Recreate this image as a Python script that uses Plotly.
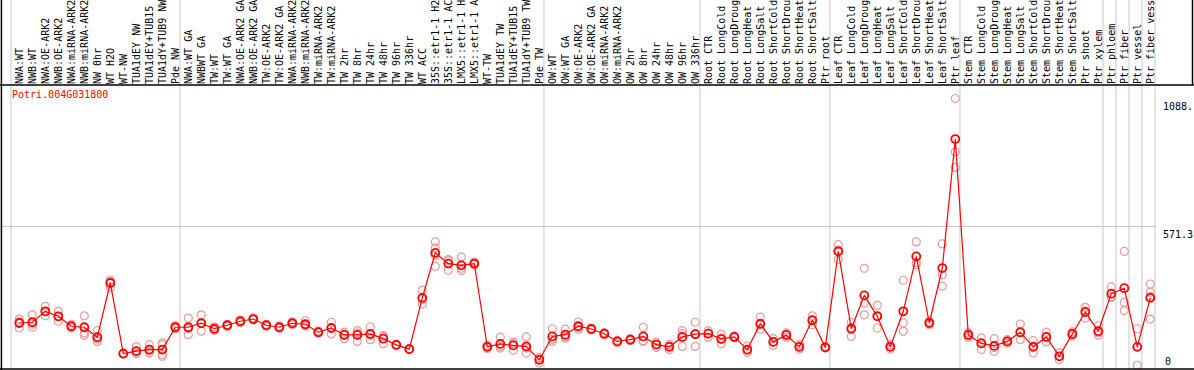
import plotly.graph_objects as go

labels = [
    "NWA:WT", "NWB:WT", "NWA:OE-ARK2", "NWB:OE-ARK2", "NWA:miRNA-ARK2", "NWB:miRNA-ARK2",
    "NW 0hr", "WT H2O", "WT-NW", "TUA1dEY NW", "TUA1dEY+TUB15 NW", "TUA1dY+TUB9 NW", "Pde NW",
    "NWA:WT GA", "NWBWT GA", "TW:WT", "TW:WT GA", "NWA:OE-ARK2 GA", "NWB:OE-ARK2 GA",
    "TW:OE-ARK2", "TW:OE-ARK2 GA", "NWA:miRNA-ARK2 GA", "NWB:miRNA-ARK2 GA", "TW:miRNA-ARK2",
    "TW:miRNA-ARK2 GA", "TW 2hr", "TW 8hr", "TW 24hr", "TW 48hr", "TW 96hr", "TW 336hr",
    "WT ACC", "35S::etr1-1 H2O", "35S::etr1-1 ACC", "LMX5::etr1-1 H2O", "LMX5::etr1-1 ACC",
    "WT-TW", "TUA1dEY TW", "TUA1dEY+TUB15 TW", "TUA1dY+TUB9 TW", "Pde TW",
    "OW:WT", "OW:WT GA", "OW:OE-ARK2", "OW:OE-ARK2 GA", "OW:miRNA-ARK2", "OW:miRNA-ARK2 GA",
    "OW 2hr", "OW 8hr", "OW 24hr", "OW 48hr", "OW 96hr", "OW 336hr",
    "Root CTR", "Root LongCold", "Root LongDrought", "Root LongHeat", "Root LongSalt",
    "Root ShortCold", "Root ShortDrought", "Root ShortHeat", "Root ShortSalt", "Ptr root",
    "Leaf CTR", "Leaf LongCold", "Leaf LongDrought", "Leaf LongHeat", "Leaf LongSalt",
    "Leaf ShortCold", "Leaf ShortDrought", "Leaf ShortHeat", "Leaf ShortSalt", "Ptr leaf",
    "Stem CTR", "Stem LongCold", "Stem LongDrought", "Stem LongHeat", "Stem LongSalt",
    "Stem ShortCold", "Stem ShortDrought", "Stem ShortHeat", "Stem ShortSalt", "Ptr shoot",
    "Ptr xylem", "Ptr phloem", "Ptr fiber", "Ptr vessel", "Ptr fiber vessel",
]

means = [185, 188, 232, 212, 172, 168, 128, 346, 62, 72, 78, 78, 168,
         168, 184, 162, 176, 192, 201, 176, 168, 184, 180, 148, 165,
         137, 137, 141, 122, 97, 80, 286, 467, 424, 417, 424, 89, 101, 95, 91, 37,
         131, 138, 172, 161, 142, 111, 118, 131, 98, 89, 129, 140,
         142, 121, 129, 78, 182, 109, 137, 89, 196, 87,
         473, 162, 296, 212, 89, 232, 453, 185, 406, 925,
         137, 103, 93, 111, 148, 89, 129, 51, 141, 229,
         152, 303, 325, 89, 286]

replicates = [
    [201, 165, 190], [218, 168, 180], [252, 214, 230], [232, 192, 212], [165, 180, 172],
    [214, 145, 136], [154, 111, 120], [352, 329, 358], [60, 64, 62], [90, 62, 64],
    [98, 64, 72], [105, 58, 51, 98], [175, 162, 168],
    [205, 138, 162], [218, 152, 184], [170, 155, 162], [180, 172, 176], [197, 186, 192],
    [206, 198, 200], [180, 172, 176], [172, 164, 168], [190, 178, 184], [194, 172, 176],
    [152, 144, 148], [188, 141, 166],
    [140, 122, 148], [154, 111, 145], [169, 118, 136], [130, 102, 134], [100, 94, 97],
    [82, 78, 80], [317, 261, 280], [511, 413, 487, 458], [440, 397, 436], [451, 396, 405],
    [430, 418, 424], [95, 82, 89], [128, 84, 92], [108, 75, 102], [129, 64, 84, 88],
    [46, 24, 40],
    [162, 111, 120], [160, 124, 130], [189, 160, 168], [165, 157, 161], [146, 138, 142],
    [115, 107, 111], [122, 114, 118], [168, 112, 113], [108, 86, 100], [98, 78, 91],
    [154, 91, 142], [188, 91, 141],
    [154, 128, 144], [140, 102, 121], [133, 125, 129], [92, 67, 75], [209, 160, 177],
    [122, 95, 110], [145, 128, 138], [98, 80, 89], [214, 178, 196], [90, 84, 87],
    [500, 440, 479], [188, 131, 167], [405, 265, 218], [256, 165, 215], [80, 98, 89],
    [357, 185, 152], [511, 420, 428], [192, 178, 185], [503, 379, 333], [1088, 873, 811],
    [128, 146, 137], [125, 78, 106], [122, 71, 86], [118, 104, 111], [181, 118, 145],
    [64, 114, 89], [148, 110, 129], [37, 65, 51], [133, 149, 141], [248, 205, 234],
    [174, 136, 146], [330, 290, 289], [473, 268, 235], [162, 15, 90], [342, 309, 201, 292],
]

group_starts = [0, 13, 41, 53, 63, 73, 84, 85, 86, 87, 88]
y_max = 1088
y_mid = 571.3
gene = "Potri.004G031800"

idx = list(range(len(labels)))
rep_x, rep_y = [], []
for i, vals in enumerate(replicates):
    for v in vals:
        rep_x.append(i)
        rep_y.append(v)

mono = "DejaVu Sans Mono"
fig = go.Figure()
fig.add_trace(go.Scatter(
    x=rep_x, y=rep_y, mode="markers",
    marker=dict(symbol="circle-open", size=8, color="#e89a9a", line=dict(width=1.2)),
    showlegend=False, cliponaxis=False,
))
fig.add_trace(go.Scatter(
    x=idx, y=means, mode="lines+markers",
    line=dict(color="#ff0000", width=1.2),
    marker=dict(symbol="circle-open", size=8, color="#ff0000", line=dict(width=1.8)),
    showlegend=False, cliponaxis=False,
))

shapes = []
for s in group_starts:
    shapes.append(dict(type="line", xref="x", yref="paper", x0=s - 0.64, x1=s - 0.64,
                       y0=0, y1=1.31, line=dict(color="#c8c8c8", width=1), layer="below"))
W = 1155.0
shapes += [
    dict(type="line", xref="paper", yref="paper", x0=-0.0005, x1=-0.0005, y0=-0.01, y1=1.31,
         line=dict(color="black", width=1.5)),
    dict(type="line", xref="paper", yref="paper", x0=-0.002, x1=1192.5 / W, y0=1, y1=1,
         line=dict(color="black", width=1.5)),
    dict(type="line", xref="paper", yref="paper", x0=-0.002, x1=1.04, y0=0, y1=0,
         line=dict(color="black", width=1.5)),
    dict(type="line", xref="paper", yref="paper", x0=1190.5 / W, x1=1190.5 / W, y0=1, y1=1.31,
         line=dict(color="black", width=1.5)),
]

annotations = [
    dict(text=gene, xref="paper", yref="paper", x=8 / W, y=0.992, xanchor="left", yanchor="top",
         showarrow=False, font=dict(family=mono, size=10, color="#ff0000")),
    dict(text="1088.", xref="paper", yref="y", x=1, y=y_max, xanchor="left", yanchor="top",
         xshift=4, showarrow=False, font=dict(family=mono, size=10, color="black")),
    dict(text=str(y_mid), xref="paper", yref="y", x=1, y=y_mid, xanchor="left", yanchor="top",
         xshift=4, showarrow=False, font=dict(family=mono, size=10, color="black")),
    dict(text="0", xref="paper", yref="y", x=1, y=0, xanchor="left", yanchor="bottom",
         xshift=6, showarrow=False, font=dict(family=mono, size=10, color="black")),
]

fig.update_layout(
    width=1194, height=370,
    margin=dict(l=2, r=37, t=85, b=1, pad=0),
    paper_bgcolor="white", plot_bgcolor="white",
    template="none",
    xaxis=dict(range=[-1.3308, 87.5154], tickmode="array", tickvals=idx, ticktext=labels,
               side="top", tickangle=-90, ticks="", showgrid=False, zeroline=False,
               showline=False, automargin=False,
               tickfont=dict(family=mono, size=10, color="black")),
    yaxis=dict(range=[0, y_max * 1.05], tickmode="array", tickvals=[y_mid],
               showticklabels=False, ticks="", showgrid=True, gridcolor="#c8c8c8",
               gridwidth=1, zeroline=False, showline=False, automargin=False),
    shapes=shapes, annotations=annotations,
    showlegend=False,
)

fig.write_html(
    "out.html",
    config={"displayModeBar": False},
    post_script="document.body.style.margin='0';document.body.style.overflow='hidden';",
)
